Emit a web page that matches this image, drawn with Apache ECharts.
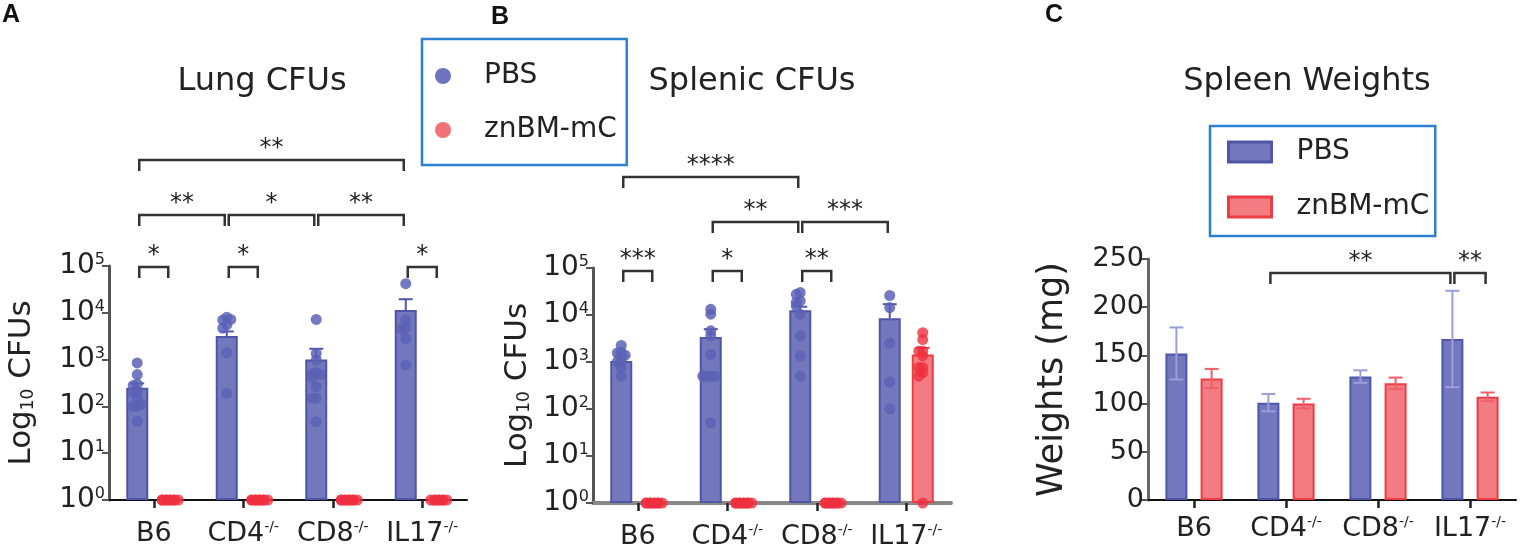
<!DOCTYPE html>
<html>
<head>
<meta charset="utf-8">
<script src="https://cdn.jsdelivr.net/npm/echarts@6/dist/echarts.min.js"></script>
<style>
  html, body { margin: 0; padding: 0; background: #fff; }
  #chart { width: 1522px; height: 552px; }
</style>
</head>
<body>
<div id="chart"></div>
<script>
// ---- data ----
const categories = ['B6', 'CD4', 'CD8', 'IL17'];

// A: lung CFUs
const lungMeanPBS = [250, 3200, 1000, 11500];
const lungHiPBS = [310, 4000, 1700, 19500];
const lungMeanZn = [1, 1, 1, 1];
const lungPtsPBS = [
    [850, 480, 300, 280, 210, 200, 150, 100, 100, 110, 48],
    [8000, 7000, 7200, 5500, 4700, 1400, 190],
    [7200, 1350, 980, 520, 500, 480, 400, 260, 150, 150, 47],
    [42000, 7000, 4700, 4500, 2800, 770]
];
const lungPtsZn = [
    [1, 1, 1, 1, 1, 1, 1, 1, 1],
    [1, 1, 1, 1, 1, 1, 1, 1, 1],
    [1, 1, 1, 1, 1, 1, 1, 1, 1],
    [1, 1, 1, 1, 1, 1, 1, 1]
];
// [cat1, group1, cat2, group2, row]
const lungSig = [[0, 0, 0, 1, 0], [1, 0, 1, 1, 0], [3, 0, 3, 1, 0],
    [0, 0, 1, 0, 1], [1, 0, 2, 0, 1], [2, 0, 3, 0, 1], [0, 0, 3, 0, 2]];
const lungSigText = ['*', '*', '*', '**', '*', '**', '**'];

// B: splenic CFUs
const splMeanPBS = [1050, 3400, 12600, 8500];
const splHiPBS = [1300, 5000, 15000, 17000];
const splMeanZn = [1, 1, 1, 1450];
const splHiZn = [1, 1, 1, 2000];
const splPtsPBS = [
    [2250, 1600, 1550, 1400, 1050, 1000, 760, 500],
    [13200, 10400, 4600, 3600, 1450, 500, 500, 500, 500, 51],
    [30000, 27600, 20000, 18600, 15500, 10400, 3600, 1350, 500],
    [26000, 14400, 2500, 375, 100]
];
const splPtsZn = [
    [1, 1, 1, 1, 1, 1, 1, 1, 1],
    [1, 1, 1, 1, 1, 1, 1, 1, 1],
    [1, 1, 1, 1, 1, 1, 1, 1, 1],
    [4200, 3000, 1700, 1700, 1350, 760, 760, 590, 500, 1]
];
const splSig = [[0, 0, 0, 1, 0], [1, 0, 1, 1, 0], [2, 0, 2, 1, 0],
    [1, 0, 2, 0, 1], [2, 0, 3, 0, 1], [0, 0, 2, 0, 2]];
const splSigText = ['***', '*', '**', '**', '***', '****'];

// C: spleen weights (mg)
const wMeanPBS = [152, 101, 128, 167];
const wErrPBS = [27, 9, 6.5, 50];
const wMeanZn = [126, 100, 121, 107];
const wErrZn = [10, 5, 6, 4.5];
const wSig = [[1, 0, 3, 0, 0], [3, 0, 3, 1, 0]];
const wSigText = ['**', '**'];

// ---- styling ----
const FONT = 'DejaVu Sans';
const BLUE = '#7377bb', BLUE_EDGE = '#4f55aa', BLUE_DOT = '#5c61b6';
const RED = '#f27c82', RED_EDGE = '#ee3c44', RED_DOT = '#ef3040';
const BAR_W = 22;

var chartDom = document.getElementById('chart');
var myChart = echarts.init(chartDom);
var option;

function jitter(values, isLog) {
    const seen = [];
    return values.map(v => {
        const t = isLog ? Math.log10(v) : v;
        const n = seen.filter(s => Math.abs(s - t) < 0.08).length;
        seen.push(t);
        return [0, -1, 1, -2, 2][n % 5] * 4;
    });
}

function dots(pts, off) {
    const out = [];
    pts.forEach((arr, ci) => {
        const j = jitter(arr, true);
        arr.forEach((v, k) => out.push({ value: [ci, v], symbolOffset: [off + j[k], 0] }));
    });
    return out;
}

function errRender(off, color, capW, both) {
    return function (params, api) {
        const cat = api.value(0);
        const lo = api.value(1), mid = api.value(2), hi = api.value(3);
        const pHi = api.coord([cat, hi]);
        const pLo = api.coord([cat, both ? lo : mid]);
        const x = pHi[0] + off;
        const kids = [
            { type: 'line', shape: { x1: x, y1: pLo[1], x2: x, y2: pHi[1] }, style: { stroke: color, lineWidth: 2 } },
            { type: 'line', shape: { x1: x - capW, y1: pHi[1], x2: x + capW, y2: pHi[1] }, style: { stroke: color, lineWidth: 2 } }
        ];
        if (both) kids.push({ type: 'line', shape: { x1: x - capW, y1: pLo[1], x2: x + capW, y2: pLo[1] }, style: { stroke: color, lineWidth: 2 } });
        return { type: 'group', children: kids };
    };
}

function sigRender(off, yTop, rows, texts) {
    return function (params, api) {
        const c1 = api.value(0), g1 = api.value(1), c2 = api.value(2), g2 = api.value(3), row = api.value(4);
        const top = api.coord([c1, yTop])[1];
        const x1 = api.coord([c1, yTop])[0] + (g1 ? off : -off) + 2;
        const x2 = api.coord([c2, yTop])[0] + (g2 ? off : -off) - 2;
        const y = top + rows[row];
        const st = { stroke: '#333', lineWidth: 2.5, fill: null };
        return {
            type: 'group', children: [
                { type: 'polyline', shape: { points: [[x1, y + 11], [x1, y], [x2, y], [x2, y + 11]] }, style: st },
                { type: 'text', style: { text: texts[params.dataIndex], x: (x1 + x2) / 2, y: y - 11, align: 'center', verticalAlign: 'middle', fontSize: 24, fontFamily: FONT, fill: '#222' } }
            ]
        };
    };
}

const xLabel = {
    interval: 0, hideOverlap: false,
    fontSize: 27, fontFamily: FONT, color: '#222',
    formatter: c => c === 'B6' ? c : c + '{s|-/-}',
    rich: { s: { fontSize: 14, fontFamily: FONT, verticalAlign: 'top', lineHeight: 14, color: '#222' } }
};
const logLabel = {
    fontSize: 27, fontFamily: FONT, color: '#222', margin: 4,
    formatter: v => '{b|10}{s|' + Math.round(Math.log10(v)) + '}',
    rich: {
        b: { fontSize: 28, fontFamily: FONT, color: '#222' },
        s: { fontSize: 16, fontFamily: FONT, verticalAlign: 'top', lineHeight: 16, color: '#222' }
    }
};
const logName = {
    name: '{n|Log}{d|10}{n| CFUs}', nameLocation: 'middle', nameRotate: 90,
    nameTextStyle: {
        rich: {
            n: { fontSize: 31, fontFamily: FONT, color: '#222' },
            d: { fontSize: 17, fontFamily: FONT, color: '#222', verticalAlign: 'bottom' }
        }
    }
};

function xAxis(grid, lineColor, lineW, margin) {
    return {
        type: 'category', gridIndex: grid, data: categories,
        axisLine: { lineStyle: { color: lineColor, width: lineW } },
        axisTick: { show: true, interval: 0, alignWithLabel: true, length: 8, lineStyle: { color: '#222', width: 2.5 } },
        axisLabel: Object.assign({ margin: margin }, xLabel)
    };
}
function logAxis(grid, gap) {
    return Object.assign({
        type: 'log', logBase: 10, min: 1, max: 100000, gridIndex: grid, nameGap: gap,
        splitLine: { show: false },
        axisLine: { show: true, lineStyle: { color: '#555', width: 3 } },
        axisTick: { show: true, length: 7, lineStyle: { color: '#555', width: 2 } },
        axisLabel: logLabel
    }, logName);
}

const OFF = BAR_W * 1.5 / 2;
const OFF_C = BAR_W * 1.6 / 2;

function cfuSeries(grid, meanPBS, hiPBS, meanZn, hiZn, ptsPBS, ptsZn, sig, sigText, rows) {
    const list = [
        {
            name: 'PBS', type: 'bar', xAxisIndex: grid, yAxisIndex: grid, barWidth: BAR_W, barGap: '50%',
            data: meanPBS, itemStyle: { color: BLUE, borderColor: BLUE_EDGE, borderWidth: 2 }, z: 2
        },
        {
            name: 'znBM-mC', type: 'bar', xAxisIndex: grid, yAxisIndex: grid, barWidth: BAR_W, barGap: '50%',
            data: meanZn, itemStyle: { color: RED, borderColor: RED_EDGE, borderWidth: 2 }, z: 2
        },
        {
            type: 'custom', xAxisIndex: grid, yAxisIndex: grid, z: 3,
            renderItem: errRender(-OFF, BLUE_EDGE, 7, false),
            data: meanPBS.map((m, i) => [i, m, m, hiPBS[i]])
        },
        {
            name: 'PBS', type: 'scatter', xAxisIndex: grid, yAxisIndex: grid, symbolSize: 11, z: 4,
            itemStyle: { color: BLUE_DOT, opacity: 0.85 }, data: dots(ptsPBS, -OFF)
        },
        {
            name: 'znBM-mC', type: 'scatter', xAxisIndex: grid, yAxisIndex: grid, symbolSize: 11, z: 4,
            itemStyle: { color: RED_DOT, opacity: 0.8 }, data: dots(ptsZn, OFF)
        },
        {
            type: 'custom', xAxisIndex: grid, yAxisIndex: grid, z: 5,
            renderItem: sigRender(OFF, 100000, rows, sigText), data: sig
        }
    ];
    if (hiZn) {
        list.push({
            type: 'custom', xAxisIndex: grid, yAxisIndex: grid, z: 3,
            renderItem: errRender(OFF, RED_EDGE, 7, false),
            data: meanZn.map((m, i) => [i, m, m, hiZn[i]]).filter(d => d[3] > d[2])
        });
    }
    return list;
}

const titleFont = { fontSize: 32, fontWeight: 'normal', fontFamily: FONT, color: '#222' };
const letterFont = { fontSize: 25, fontWeight: 'bold', fontFamily: 'Liberation Sans', color: '#111' };

option = {
    animation: false,
    textStyle: { fontFamily: FONT },
    title: [
        { text: 'A', left: 2, top: 3, padding: 0, textStyle: letterFont },
        { text: 'B', left: 491, top: 5, padding: 0, textStyle: letterFont },
        { text: 'C', left: 1045, top: 3, padding: 0, textStyle: letterFont },
        { text: 'Lung CFUs', left: 262, top: 66, padding: 0, textAlign: 'center', textStyle: titleFont },
        { text: 'Splenic CFUs', left: 752, top: 66, padding: 0, textAlign: 'center', textStyle: titleFont },
        { text: 'Spleen Weights', left: 1307, top: 66, padding: 0, textAlign: 'center', textStyle: titleFont }
    ],
    legend: [
        {
            orient: 'vertical', left: 422, top: 39, selectedMode: false,
            borderColor: '#2f7fd1', borderWidth: 2.5, padding: [22, 10, 20, 13],
            itemWidth: 16, itemHeight: 16, itemGap: 24,
            textStyle: { fontSize: 28, lineHeight: 30, color: '#222', fontFamily: FONT, padding: [0, 0, 0, 28] },
            data: [
                { name: 'PBS', icon: 'circle', itemStyle: { color: '#6f73c4', borderWidth: 0 } },
                { name: 'znBM-mC', icon: 'circle', itemStyle: { color: '#f27177', borderWidth: 0 } }
            ]
        },
        {
            orient: 'vertical', left: 1210, top: 126, selectedMode: false,
            borderColor: '#2f7fd1', borderWidth: 2.5, padding: [11, 6, 14, 17],
            itemWidth: 43, itemHeight: 20, itemGap: 25,
            textStyle: { fontSize: 28, lineHeight: 30, color: '#222', fontFamily: FONT, padding: [0, 0, 0, 20] },
            data: [
                { name: 'PBS', icon: 'rect', itemStyle: { color: BLUE, borderColor: BLUE_EDGE, borderWidth: 3 } },
                { name: 'znBM-mC', icon: 'rect', itemStyle: { color: RED, borderColor: RED_EDGE, borderWidth: 3 } }
            ]
        }
    ],
    grid: [
        { left: 109, top: 266, width: 358, height: 234 },
        { left: 593, top: 268, width: 358, height: 235 },
        { left: 1148, top: 259, width: 368, height: 241 }
    ],
    xAxis: [
        xAxis(0, '#111', 2, 20),
        xAxis(1, '#888', 4, 20),
        xAxis(2, '#111', 2, 15)
    ],
    yAxis: [
        logAxis(0, 72),
        logAxis(1, 60),
        {
            type: 'value', gridIndex: 2, min: 0, max: 250, interval: 50,
            name: 'Weights (mg)', nameLocation: 'middle', nameRotate: 90, nameGap: 78,
            nameTextStyle: { fontSize: 35, fontFamily: FONT, color: '#222' },
            splitLine: { show: false },
            axisLine: { show: true, lineStyle: { color: '#666', width: 3 } },
            axisTick: { show: true, length: 8, lineStyle: { color: '#555', width: 2 } },
            axisLabel: { fontSize: 27, fontFamily: FONT, color: '#222', margin: 4 }
        }
    ],
    series: [
        ...cfuSeries(0, lungMeanPBS, lungHiPBS, lungMeanZn, null, lungPtsPBS, lungPtsZn, lungSig, lungSigText, [1, -51, -106]),
        ...cfuSeries(1, splMeanPBS, splHiPBS, splMeanZn, splHiZn, splPtsPBS, splPtsZn, splSig, splSigText, [3, -46, -91]),
        {
            name: 'PBS', type: 'bar', xAxisIndex: 2, yAxisIndex: 2, barWidth: BAR_W, barGap: '60%',
            data: wMeanPBS, itemStyle: { color: BLUE, borderColor: BLUE_EDGE, borderWidth: 2 }
        },
        {
            name: 'znBM-mC', type: 'bar', xAxisIndex: 2, yAxisIndex: 2, barWidth: BAR_W, barGap: '60%',
            data: wMeanZn, itemStyle: { color: RED, borderColor: RED_EDGE, borderWidth: 2 }
        },
        {
            type: 'custom', xAxisIndex: 2, yAxisIndex: 2, z: 3,
            renderItem: errRender(-OFF_C, '#9a9edc', 7, true),
            data: wMeanPBS.map((m, i) => [i, m - wErrPBS[i], m, m + wErrPBS[i]])
        },
        {
            type: 'custom', xAxisIndex: 2, yAxisIndex: 2, z: 3,
            renderItem: errRender(OFF_C, '#f0606a', 7, true),
            data: wMeanZn.map((m, i) => [i, m - wErrZn[i], m, m + wErrZn[i]])
        },
        {
            type: 'custom', xAxisIndex: 2, yAxisIndex: 2, z: 5,
            renderItem: sigRender(OFF_C, 250, [14], wSigText), data: wSig
        }
    ]
};

option && myChart.setOption(option);
</script>
</body>
</html>
